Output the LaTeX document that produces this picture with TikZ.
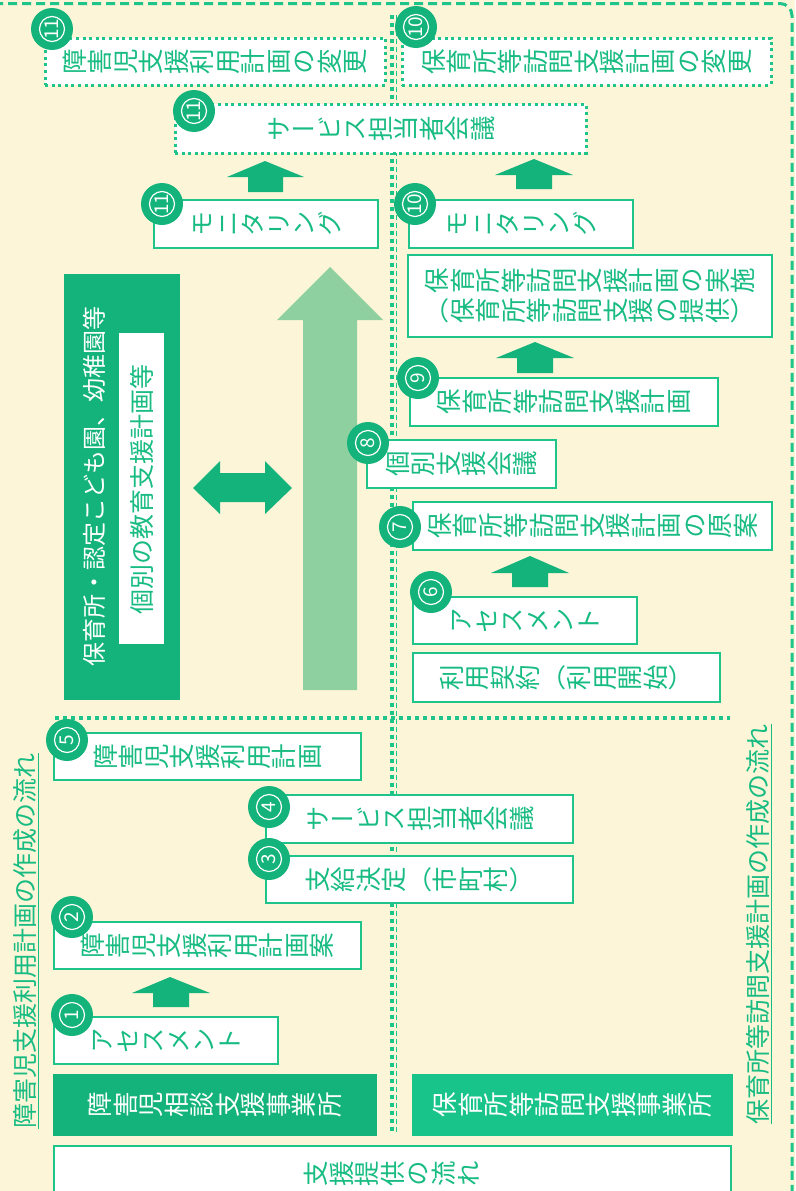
\documentclass[tikz,border=0pt]{standalone}
\usepackage{graphicx}
\usepackage{fontspec}
\setmainfont{Noto Sans CJK JP}
\newfontfamily\vjp[Vertical=RotatedGlyphs]{Noto Sans CJK JP}
\newcommand\vjpchar[1]{\smash{#1}\vrule height .88em depth .12em width 0pt}
\ExplSyntaxOn
\NewDocumentCommand\vt{m}{\tl_map_inline:nn {#1} {\rotatebox{90}{\vjpchar{##1}}}}
\ExplSyntaxOff
\definecolor{bgc}{RGB}{253,245,216}
\definecolor{gtext}{RGB}{24,188,130}
\definecolor{gline}{RGB}{30,196,138}
\definecolor{gfill}{RGB}{19,179,123}
\definecolor{gfillb}{RGB}{24,196,138}
\definecolor{glight}{RGB}{143,208,160}
\tikzset{
  boxs/.style={draw=gline, line width=2.6pt, fill=white, inner sep=0pt, text=gtext,
    font=\fontsize{25.5}{30}\selectfont\vjp, align=center},
  dotbox/.style={boxs, line width=3pt, dash pattern=on 3pt off 3.6pt},
  officebox/.style={fill=gfill, inner sep=0pt, text=white, font=\fontsize{25.5}{30}\selectfont\vjp},
  numcirc/.style={circle, fill=gfill, minimum size=42pt, inner sep=0pt},
  numtxt/.style={rotate=90, text=white, inner sep=0pt, font=\fontsize{19}{19}\selectfont},
  sepdot/.style={draw=gline, line width=3.4pt, dash pattern=on 3.5pt off 4.5pt},
  septhin/.style={draw=gline, line width=1pt, dash pattern=on 5pt off 3pt},
  titletxt/.style={rotate=90, text=gtext, inner sep=0pt, font=\fontsize{25}{30}\selectfont}
}
\newcommand\numc[4]{%
  \node[numcirc] (#1) at (#2,#3) {};
  \draw[white, line width=1.2pt] (#1.center) circle (12.5);
  \node[numtxt] at (#1.center) {#4};
}
\begin{document}
\begin{tikzpicture}[x=1pt,y=-1pt]
\useasboundingbox (0,0) rectangle (795,1191);
\clip (0,0) rectangle (795,1191);
\fill[bgc] (0,0) rectangle (795,1191);
% outer dashed frame
\draw[gline, line width=3pt, dash pattern=on 9pt off 5pt, rounded corners=12pt] (-20,3.5) -- (792,3.5) -- (792,1220);
% separators
\draw[sepdot] (392,15) -- (392,1133);
\draw[septhin] (396.5,15) -- (396.5,1133);
\draw[sepdot] (55,718) -- (730,718);
% titles
\node[titletxt] (t1) at (25,941) {障害児支援利用計画の作成の流れ};
\draw[gtext, line width=1.2pt] ([xshift=2pt]t1.south west) -- ([xshift=2pt]t1.south east);
\node[titletxt] (t2) at (758,924) {保育所等訪問支援計画の作成の流れ};
\draw[gtext, line width=1.2pt] ([xshift=2pt]t2.south west) -- ([xshift=2pt]t2.south east);
% big light arrow
\fill[glight] (303,690) -- (303,320) -- (277,320) -- (330,267) -- (383,320) -- (357,320) -- (357,690) -- cycle;
% left institution box
\node[fill=gfill, minimum width=116pt, minimum height=426pt, inner sep=0pt] (inst) at (122,487) {};
\node[rotate=90, text=white, inner sep=0pt, font=\fontsize{24}{28}\selectfont] (instt) at (94,486) {保育所・認定こども園、幼稚園等};
\node[fill=white, minimum width=45pt, minimum height=311pt, inner sep=0pt] (iep) at (141.5,488.5) {};
\node[rotate=90, text=gtext, inner sep=0pt, font=\fontsize{25}{28}\selectfont] (iept) at (142,489) {個別の教育支援計画等};
% double arrow
\fill[gfill] (193,488) -- (220,461) -- (220,473) -- (265,473) -- (265,461) -- (292,488) -- (265,514) -- (265,502) -- (220,502) -- (220,514) -- cycle;
% block arrows
\fill[gfill] (248,192) -- (248,177) -- (227,177) -- (265,161) -- (304,177) -- (283,177) -- (283,192) -- cycle;
\fill[gfill] (516,189) -- (516,175) -- (495,175) -- (534,159) -- (573,175) -- (552,175) -- (552,189) -- cycle;
\fill[gfill] (517,373) -- (517,358) -- (496,358) -- (535,342) -- (574,358) -- (553,358) -- (553,373) -- cycle;
\fill[gfill] (512,587) -- (512,573) -- (491,573) -- (530,556) -- (569,573) -- (548,573) -- (548,587) -- cycle;
\fill[gfill] (153,1007) -- (153,993) -- (132,993) -- (170,977) -- (210,993) -- (189,993) -- (189,1007) -- cycle;
% boxes
\node[dotbox, minimum width=340pt, minimum height=47pt] (chg1) at (215,61.5) {\vt{障害児支援利用計画の変更}};
\node[dotbox, minimum width=369pt, minimum height=47pt] (chg2) at (586.5,61.5) {\vt{保育所等訪問支援計画の変更}};
\node[dotbox, minimum width=411pt, minimum height=49pt] (mtg) at (380.5,128.5) {\vt{サービス担当者会議}};
\node[boxs, minimum width=224pt, minimum height=48pt] (mon1) at (266,224) {\vt{モニタリング}};
\node[boxs, minimum width=224pt, minimum height=48pt] (mon2) at (521,224) {\vt{モニタリング}};
\node[boxs, minimum width=364pt, minimum height=82pt] (impl) at (590,296) {\vt{保育所等訪問支援計画の実施}\\\vt{（保育所等訪問支援の提供）}};
\node[boxs, minimum width=308pt, minimum height=48pt] (plan9) at (564,402) {\vt{保育所等訪問支援計画}};
\node[boxs, minimum width=189pt, minimum height=48pt] (ind8) at (461.5,464) {\vt{個別支援会議}};
\node[boxs, minimum width=359pt, minimum height=48pt] (draft7) at (592.5,526) {\vt{保育所等訪問支援計画の原案}};
\node[boxs, minimum width=224pt, minimum height=47pt] (ass6) at (525,620.5) {\vt{アセスメント}};
\node[boxs, minimum width=307pt, minimum height=49pt] (contract) at (566.5,677.5) {\vt{利用契約（利用開始）}};
\node[boxs, minimum width=307pt, minimum height=47pt] (plan5) at (207.5,756.5) {\vt{障害児支援利用計画}};
\node[boxs, minimum width=307pt, minimum height=48pt] (svc4) at (419.5,819) {\vt{サービス担当者会議}};
\node[boxs, minimum width=307pt, minimum height=47pt] (dec3) at (419.5,879.5) {\vt{支給決定（市町村）}};
\node[boxs, minimum width=307pt, minimum height=47pt] (draft2) at (207.5,945.5) {\vt{障害児支援利用計画案}};
\node[boxs, minimum width=224pt, minimum height=47pt] (ass1) at (166,1040.5) {\vt{アセスメント}};
\node[officebox, minimum width=324pt, minimum height=62pt] (off1) at (215,1105) {\vt{障害児相談支援事業所}};
\node[officebox, fill=gfillb, minimum width=321pt, minimum height=62pt] (off2) at (572.5,1105) {\vt{保育所等訪問支援事業所}};
\node[boxs, minimum width=677pt, minimum height=56pt] (flow) at (392.5,1174) {\vt{支援提供の流れ}};
% number circles
\numc{n11a}{52}{29}{11}
\numc{n11b}{194}{111}{11}
\numc{n11c}{162}{204}{11}
\numc{n10a}{416}{27}{10}
\numc{n10b}{415}{204}{10}
\numc{n9}{418}{378}{9}
\numc{n8}{368}{443}{8}
\numc{n7}{400}{527}{7}
\numc{n6}{431}{592}{6}
\numc{n5}{67}{740}{5}
\numc{n4}{269}{807}{4}
\numc{n3}{269}{859}{3}
\numc{n2}{72}{917}{2}
\numc{n1}{72}{1015}{1}
\end{tikzpicture}
\end{document}
